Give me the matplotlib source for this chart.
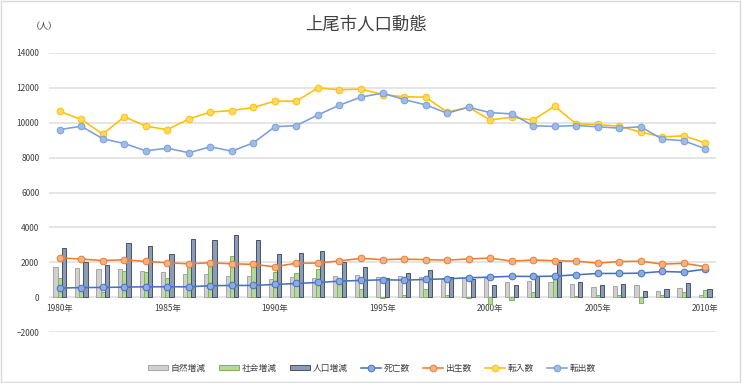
import matplotlib
matplotlib.use("Agg")
import matplotlib.pyplot as plt
import numpy as np
from matplotlib.patches import Rectangle, Patch

plt.rcParams['font.family'] = ['Noto Sans CJK JP', 'DejaVu Sans']

years = list(range(1980, 2011))
tick_labels = [f"{y}年" if y % 5 == 0 else "" for y in years]

shizen = [1740, 1660, 1586, 1586, 1490, 1414, 1340, 1310, 1230, 1204, 1013, 1170, 1090, 1185, 1270,
          1128, 1223, 1147, 1040, 1070, 1109, 879, 937, 879, 765, 593, 650, 669, 370, 510, 96]
shakai = [1070, 400, 300, 1510, 1433, 1070, 1950, 1940, 2350, 2050, 1460, 1370, 1586, 860, 440,
          -40, 150, 440, 100, -70, -420, -191, 320, 1013, 57, 115, 115, -340, 115, 287, 382]
jinko = [2790, 2025, 1870, 3130, 2924, 2447, 3307, 3250, 3560, 3265, 2465, 2550, 2637, 2025, 1740,
         1070, 1357, 1548, 1170, 1032, 720, 680, 1230, 2030, 841, 707, 765, 363, 478, 784, 490]
shibou = [516, 550, 555, 574, 593, 593, 593, 655, 670, 670, 726, 783, 841, 917, 956,
          994, 975, 1013, 1051, 1109, 1147, 1195, 1185, 1204, 1280, 1357, 1357, 1376, 1472, 1433, 1605]
shussei = [2250, 2180, 2100, 2140, 2050, 1970, 1910, 1970, 1910, 1880, 1740, 1950, 1950, 2080, 2220,
           2150, 2180, 2150, 2120, 2190, 2240, 2064, 2130, 2090, 2064, 1950, 2040, 2060, 1892, 1940, 1745]
tennyu = [10650, 10190, 9350, 10340, 9810, 9600, 10220, 10610, 10700, 10880, 11240, 11240, 12000, 11890, 11930,
          11620, 11490, 11470, 10610, 10890, 10160, 10320, 10150, 10950, 9940, 9900, 9800, 9460, 9190, 9250, 8850]
tenshutsu = [9610, 9800, 9080, 8810, 8390, 8540, 8280, 8620, 8370, 8850, 9770, 9840, 10450, 11010, 11470,
             11700, 11330, 11030, 10550, 10890, 10580, 10510, 9830, 9790, 9840, 9770, 9690, 9770, 9060, 8970, 8510]

W, H = 743, 383
fig = plt.figure(figsize=(W / 100, H / 100), dpi=100)
ax = fig.add_axes([49 / W, 1 - 332 / H, (716 - 49) / W, (332 - 53) / H])

x = np.arange(len(years))
bw = 0.195
bar_specs = [
    ("自然増減", shizen, "#d0d0d0", "#a5a5a5", -bw),
    ("社会増減", shakai, "#b5d69c", "#7fb45a", 0.0),
    ("人口増減", jinko, "#8e9bb5", "#44546a", bw),
]
handles = []
for name, vals, fc, ec, off in bar_specs:
    ax.bar(x + off, vals, width=bw, color=fc, edgecolor=ec, linewidth=0.7, zorder=2)
    handles.append(Patch(facecolor=fc, edgecolor=ec, linewidth=0.7, label=name))

line_specs = [
    ("死亡数", shibou, "#4472c4", "#8faadc"),
    ("出生数", shussei, "#ed7d31", "#f4b183"),
    ("転入数", tennyu, "#ffc000", "#ffd966"),
    ("転出数", tenshutsu, "#7aa0da", "#9fbbe6"),
]
for name, vals, lc, mc in line_specs:
    ln, = ax.plot(x, vals, color=lc, lw=1.15, marker='o', markersize=4.8,
                  markerfacecolor=mc, markeredgecolor=lc, markeredgewidth=0.7, zorder=3, label=name)
    handles.append(ln)

ax.set_xlim(-0.5, len(years) - 0.5)
ax.set_ylim(-2000, 14000)
ax.set_yticks(np.arange(-2000, 14001, 2000))
ax.yaxis.grid(True, color="#dedede", lw=1.1, zorder=0)
ax.set_axisbelow(True)
for s in ax.spines.values():
    s.set_visible(False)
ax.spines['bottom'].set_position(('data', 0))
ax.set_xticks(x)
ax.set_xticklabels(tick_labels)
ax.tick_params(axis='x', length=0, pad=5, labelsize=6, labelcolor="#404040")
ax.tick_params(axis='y', length=0, pad=7, labelsize=6, labelcolor="#404040")

fig.text(366 / W, 1 - 25 / H, "上尾市人口動態", ha='center', va='center', fontsize=12.5, color="#404040")
fig.text(44 / W, 1 - 27 / H, "（人）", ha='center', va='center', fontsize=6.5, color="#404040")

fig.legend(handles=handles, loc='center', bbox_to_anchor=(372 / W, 1 - 368 / H), ncol=7,
           frameon=False, fontsize=6.3, handlelength=2.3, handletextpad=0.3, columnspacing=1.5,
           handleheight=0.6, labelcolor="#404040")

fig.patches.append(Rectangle((0.5 / W, 1.5 / H), 739.5 / W, 380.5 / H, transform=fig.transFigure,
                             fill=False, edgecolor="#d9d9d9", lw=1))

fig.savefig("out.png", dpi=100)
